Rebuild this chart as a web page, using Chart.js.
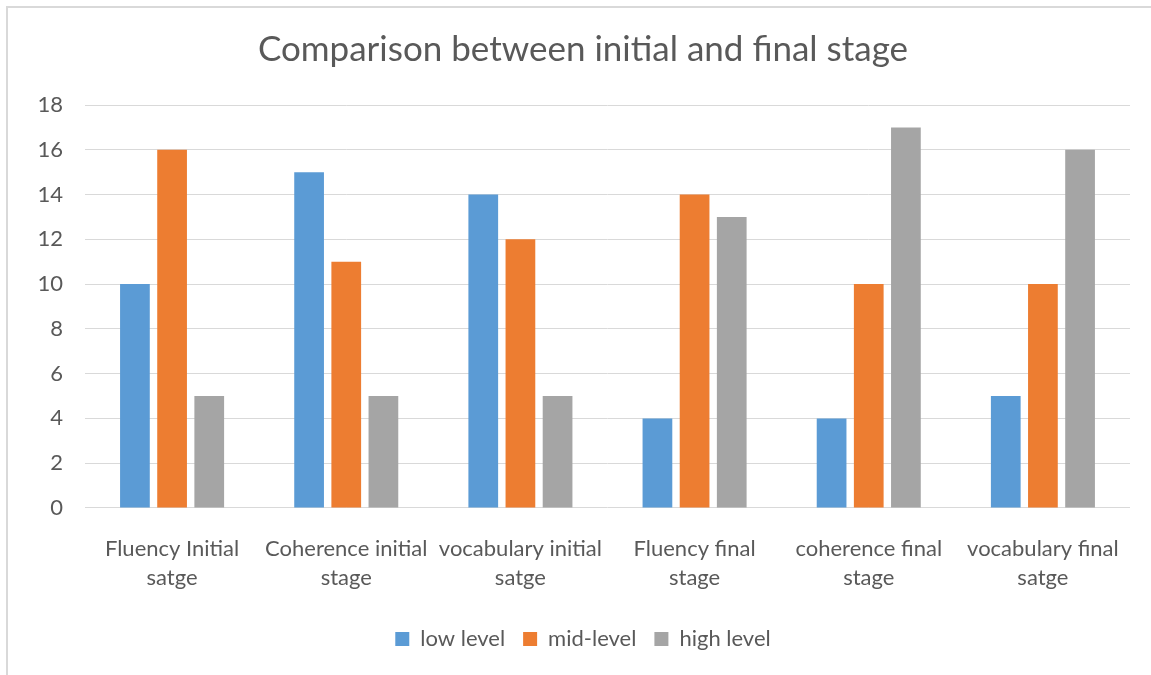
<!DOCTYPE html>
<html>
<head>
<meta charset="utf-8">
<script src="https://cdn.jsdelivr.net/npm/chart.js@4.4.0/dist/chart.umd.min.js"></script>
<style>
  body { margin: 0; background: #fff; }
  #wrap { position: relative; width: 1151px; height: 675px; }
  #frame { position: absolute; left: 6px; top: 6px; right: 0; bottom: 0;
    border-left: 2px solid #d9d9d9; border-top: 2px solid #d9d9d9; }
  canvas { position: absolute; left: 0; top: 0; }
</style>
</head>
<body>
<div id="wrap">
  <div id="frame"></div>
  <canvas id="chart-1" width="1151" height="675"></canvas>
</div>
<script>
const categories = [
  ["Fluency Initial", "satge"],
  ["Coherence initial", "stage"],
  ["vocabulary initial", "satge"],
  ["Fluency final", "stage"],
  ["coherence final", "stage"],
  ["vocabulary final", "satge"],
];
const lowLevel = [10, 15, 14, 4, 4, 5];
const midLevel = [16, 11, 12, 14, 10, 10];
const highLevel = [5, 5, 5, 13, 17, 16];

const textColor = "#595959";
const fontFamily = "Lato, 'Open Sans', sans-serif";

const ctx_1 = document.getElementById("chart-1");
new Chart(ctx_1, {
  type: "bar",
  data: {
    labels: categories,
    datasets: [
      { label: "low level", data: lowLevel, backgroundColor: "#5b9bd5" },
      { label: "mid-level", data: midLevel, backgroundColor: "#ed7d31" },
      { label: "high level", data: highLevel, backgroundColor: "#a5a5a5" },
    ],
  },
  options: {
    responsive: false,
    animation: false,
    datasets: {
      bar: { categoryPercentage: 0.64, barPercentage: 0.8 },
    },
    layout: {
      padding: { left: 36, right: 21, top: 20, bottom: 15 },
    },
    plugins: {
      title: {
        display: true,
        text: "Comparison between initial and final stage",
        color: textColor,
        font: { family: fontFamily, size: 35, weight: "normal" },
        padding: { top: 9, bottom: 34 },
      },
      legend: {
        position: "bottom",
        labels: {
          color: textColor,
          font: { family: fontFamily, size: 22 },
          boxWidth: 14,
          boxHeight: 14,
          padding: 18,
        },
      },
      tooltip: { enabled: false },
    },
    scales: {
      x: {
        grid: { display: false },
        border: { display: false },
        ticks: {
          color: textColor,
          font: { family: fontFamily, size: 22, lineHeight: 1.32 },
          padding: 18,
          maxRotation: 0,
        },
      },
      y: {
        min: 0,
        max: 18,
        afterFit: function (scale) {
          scale.width = 49;
        },
        ticks: {
          stepSize: 2,
          color: textColor,
          font: { family: fontFamily, size: 22 },
          padding: 22,
        },
        grid: { color: "#d9d9d9", lineWidth: 1, drawTicks: false },
        border: { display: false },
      },
    },
  },
});
</script>
</body>
</html>
